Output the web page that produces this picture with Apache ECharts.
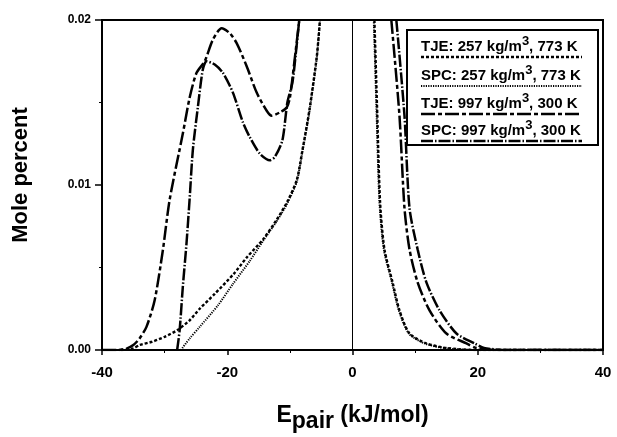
<!DOCTYPE html>
<html>
<head>
<meta charset="utf-8">
<script src="https://cdn.jsdelivr.net/npm/echarts@6/dist/echarts.min.js"></script>
<style>html,body{margin:0;padding:0;background:#fff}#c{width:617px;height:437px}</style>
</head>
<body>
<div id="c"></div>
<script>
// Data (x: E_pair kJ/mol, y: mole percent); null = off-scale gap
var tje257 = [[-37,0],[-35,0.0001],[-34,0.0003],[-32,0.0005],[-30,0.0008],[-28,0.0012],[-26,0.0018],[-24.4,0.0025],[-22,0.0034],[-19,0.0046],[-16.9,0.0056],[-14.3,0.0067],[-12.1,0.0079],[-10.4,0.009],[-8.9,0.0103],[-8,0.0121],[-6.9,0.0145],[-5.7,0.0178],[-5.2,0.02],null,[3.5,0.02],[3.9,0.015],[4.4,0.009],[5.1,0.0061],[6.4,0.0041],[7.5,0.0024],[9.1,0.001],[11.8,0.0004],[15,0.00012],[20,0],[40,0]];
var spc257 = [[-27.4,0],[-26,0.0007],[-24.4,0.0014],[-21.5,0.0027],[-19.1,0.004],[-16.4,0.0054],[-14.3,0.0066],[-12.1,0.0078],[-10.4,0.0089],[-8.9,0.0102],[-8,0.012],[-6.9,0.0144],[-5.7,0.0177],[-5.2,0.02],null,[3.4,0.02],[3.8,0.015],[4.3,0.009],[5,0.0061],[6.3,0.0041],[7.4,0.0024],[9,0.001],[11.5,0.0004],[15,0.0001],[20,0],[40,0]];
var tje997 = [[-40,0],[-37.5,0],[-36,0.0001],[-35,0.0003],[-34,0.0007],[-32.9,0.0014],[-31.6,0.003],[-30.3,0.006],[-29.2,0.0091],[-27.1,0.0131],[-26,0.0153],[-24.9,0.0168],[-23.6,0.0175],[-22.3,0.0188],[-20.9,0.0195],[-19.6,0.0192],[-18.5,0.0186],[-16.9,0.0172],[-15.3,0.0156],[-13.7,0.0145],[-12.9,0.0142],[-11.6,0.0144],[-10.5,0.0147],[-10,0.0153],[-9.3,0.0174],[-8.5,0.02],null,[6.2,0.02],[7.5,0.0142],[8.3,0.0086],[9.1,0.0061],[10.4,0.0041],[12.3,0.0024],[15,0.001],[18.2,0.0004],[19.8,0.00012],[23,0],[40,0]];
var spc997 = [[-28,0],[-27.6,0.0012],[-27.1,0.0038],[-26.5,0.0065],[-26,0.0092],[-25.5,0.0121],[-24.7,0.0147],[-23.9,0.017],[-23.3,0.0175],[-22,0.0173],[-20.7,0.0168],[-19.1,0.0156],[-17.5,0.0138],[-16.4,0.0129],[-14.8,0.0119],[-13.2,0.0115],[-12.4,0.0117],[-11.2,0.0127],[-10.4,0.015],[-9.6,0.0162],[-9.1,0.0178],[-8.5,0.02],null,[7,0.02],[8.3,0.0142],[9.1,0.0086],[10.4,0.0061],[11.8,0.0041],[13.9,0.0024],[16.6,0.001],[19.5,0.0004],[21,0.00012],[25,0],[40,0]];
var seriesNames = ['TJE: 257 kg/m3, 773 K','SPC: 257 kg/m3, 773 K','TJE: 997 kg/m3, 300 K','SPC: 997 kg/m3, 300 K'];
var xTicks = [-40,-20,0,20,40];
var yTicks = [0,0.01,0.02];

var FONT = 'Liberation Sans, Arial, sans-serif';
var styles = [
  {width:2.4, type:[3,2]},
  {width:2, type:[1.2,1.2]},
  {width:2.5, type:[14,3,4,3]},
  {width:2.5, type:[12,2,1.5,2]}
];
var datasets = [tje257, spc257, tje997, spc997];

var chart = echarts.init(document.getElementById('c'));
var series = datasets.map(function(d,i){
  return {
    name: seriesNames[i], type:'line', data:d, showSymbol:false, smooth:0.25,
    connectNulls:false, clip:true,
    lineStyle:{color:'#000', width:styles[i].width, type:styles[i].type},
    z: 3
  };
});
series[0].markLine = {
  silent:true, symbol:'none', label:{show:false},
  lineStyle:{color:'#000', width:1, type:'solid'},
  data:[{xAxis:0}]
};

// legend built as graphic (line samples under the text, as in the reference)
var legendChildren = [{
  type:'rect', shape:{x:407,y:30,width:191,height:115},
  style:{fill:'#fff', stroke:'#000', lineWidth:2}
}];
var rowY = [47,76,104,131];
seriesNames.forEach(function(n,i){
  var parts = n.split('m3');
  legendChildren.push({
    type:'text', x:421, y:rowY[i],
    style:{
      text: parts[0]+'m{sup|3}'+parts[1],
      font:'bold 15px '+FONT, fill:'#000', verticalAlign:'middle',
      rich:{sup:{font:'bold 13px '+FONT, verticalAlign:'bottom', padding:[0,0,12,0]}}
    }
  });
  legendChildren.push({
    type:'line', shape:{x1:421,y1:rowY[i]+10,x2:582,y2:rowY[i]+10},
    style:{stroke:'#000', lineWidth:styles[i].width, lineDash:styles[i].type}
  });
});

chart.setOption({
  animation:false,
  backgroundColor:'#fff',
  grid:{left:102, right:14, top:20, bottom:87, outerBoundsMode:'none', containLabel:false,
    show:true, borderColor:'#000', borderWidth:2, backgroundColor:'transparent'},
  xAxis:{
    type:'value', min:xTicks[0], max:xTicks[xTicks.length-1], interval:20,
    name:'E{sub|pair} (kJ/mol)', nameLocation:'middle', nameGap:48,
    nameTextStyle:{fontFamily:FONT, fontWeight:'bold', fontSize:23, color:'#000',
      rich:{sub:{fontFamily:FONT, fontWeight:'bold', fontSize:23, color:'#000', padding:[12,0,0,0]}}},
    axisLine:{onZero:false, lineStyle:{color:'#000', width:2}},
    axisTick:{inside:false, length:5, lineStyle:{color:'#000', width:1.5}},
    minorTick:{show:true, splitNumber:2, length:3, lineStyle:{color:'#000'}},
    axisLabel:{fontFamily:FONT, fontWeight:'bold', fontSize:15, color:'#000', margin:15},
    splitLine:{show:false}
  },
  yAxis:{
    type:'value', min:yTicks[0], max:yTicks[yTicks.length-1], interval:0.01,
    name:'Mole percent', nameLocation:'middle', nameGap:70,
    nameTextStyle:{fontFamily:FONT, fontWeight:'bold', fontSize:22, color:'#000', padding:[0,0,0,20]},
    axisLine:{onZero:false, lineStyle:{color:'#000', width:2}},
    axisTick:{inside:false, length:7, lineStyle:{color:'#000', width:1.5}},
    minorTick:{show:true, splitNumber:2, length:3, lineStyle:{color:'#000'}},
    axisLabel:{fontFamily:FONT, fontWeight:'bold', fontSize:12, color:'#000', margin:11,
      formatter:function(v){return v.toFixed(2);}},
    splitLine:{show:false}
  },
  series:series,
  graphic:[{type:'group', z:100, children:legendChildren}]
});
</script>
</body>
</html>
